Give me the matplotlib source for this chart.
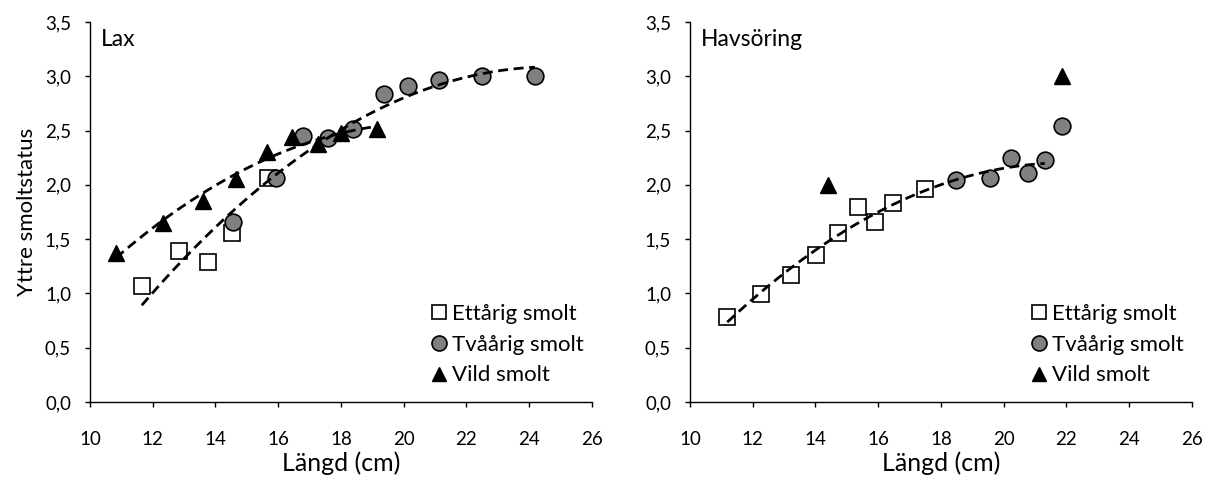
import numpy as np
import matplotlib
matplotlib.use("Agg")
import matplotlib.pyplot as plt
from matplotlib.ticker import FuncFormatter, MultipleLocator

plt.rcParams['font.family'] = ['Lato', 'DejaVu Sans']

#---------------------------------------------------
# data
#---------------------------------------------------
# Lax
lax_ett_x = [11.65, 12.84, 13.75, 14.54, 15.66]
lax_ett_y = [1.07, 1.39, 1.29, 1.56, 2.06]
lax_tva_x = [14.57, 15.93, 16.78, 17.60, 18.39, 19.37, 20.15, 21.13, 22.51, 24.18]
lax_tva_y = [1.66, 2.06, 2.45, 2.43, 2.51, 2.84, 2.91, 2.97, 3.00, 3.00]
lax_vild_x = [10.83, 12.32, 13.59, 14.65, 15.63, 16.43, 17.28, 18.00, 19.14]
lax_vild_y = [1.37, 1.65, 1.85, 2.05, 2.30, 2.44, 2.38, 2.48, 2.51]

# Havsöring
hav_ett_x = [11.19, 12.28, 13.22, 14.02, 14.71, 15.37, 15.90, 16.46, 17.49]
hav_ett_y = [0.78, 0.99, 1.17, 1.35, 1.56, 1.80, 1.66, 1.83, 1.96]
hav_tva_x = [18.48, 19.56, 20.23, 20.76, 21.31, 21.87]
hav_tva_y = [2.04, 2.06, 2.25, 2.11, 2.23, 2.54]
hav_vild_x = [14.41, 21.87]
hav_vild_y = [2.00, 3.00]

labels = ["Ettårig smolt", "Tvåårig smolt", "Vild smolt"]
xticks = np.arange(10, 27, 2)


def trend(ax, xs, ys, deg=2):
    xs = np.asarray(xs)
    ys = np.asarray(ys)
    c = np.polyfit(xs, ys, deg)
    xx = np.linspace(xs.min(), xs.max(), 200)
    ax.plot(xx, np.polyval(c, xx), color='black', lw=2.0,
            dashes=(3.6, 2.0), zorder=5)


def style(ax, title):
    ax.set_xlim(10, 26)
    ax.set_ylim(0, 3.5)
    ax.set_xticks(xticks)
    ax.yaxis.set_major_locator(MultipleLocator(0.5))
    ax.yaxis.set_major_formatter(FuncFormatter(lambda v, p: f"{v:.1f}".replace('.', ',')))
    for s in ['top', 'right']:
        ax.spines[s].set_visible(False)
    for s in ['left', 'bottom']:
        ax.spines[s].set_linewidth(1.0)
    ax.tick_params(axis='x', direction='out', length=3.6, width=1, pad=17, labelsize=13.5)
    ax.tick_params(axis='y', direction='out', length=3.6, width=1, pad=10, labelsize=13.5)
    ax.set_xlabel("Längd (cm)", fontsize=18, labelpad=3)
    ax.text(0.022, 0.955, title, transform=ax.transAxes, fontsize=16.5, va='center')


def markers(ax, ex, ey, tx, ty, vx, vy):
    ax.plot(ex, ey, 's', ms=11, mfc='white', mec='black', mew=1.2, ls='none', label=labels[0], zorder=3)
    ax.plot(tx, ty, 'o', ms=12, mfc='#808080', mec='black', mew=1.2, ls='none', label=labels[1], zorder=3)
    ax.plot(vx, vy, '^', ms=11, mfc='black', mec='black', ls='none', label=labels[2], zorder=3)
    ax.legend(loc='lower left', bbox_to_anchor=(0.66, 0.02), frameon=False,
              fontsize=16, handlelength=0.8, handletextpad=0.2, labelspacing=0.48,
              borderaxespad=0, markerscale=0.9)


fig = plt.figure(figsize=(12.13, 4.79), dpi=100)
ax1 = fig.add_axes([0.0742, 0.1608, 0.4138, 0.7933])
ax2 = fig.add_axes([0.5688, 0.1608, 0.4138, 0.7933])

markers(ax1, lax_ett_x, lax_ett_y, lax_tva_x, lax_tva_y, lax_vild_x, lax_vild_y)
trend(ax1, lax_ett_x + lax_tva_x, lax_ett_y + lax_tva_y)
trend(ax1, lax_vild_x, lax_vild_y)
style(ax1, "Lax")
ax1.set_ylabel("Yttre smoltstatus", fontsize=16, labelpad=6)

markers(ax2, hav_ett_x, hav_ett_y, hav_tva_x, hav_tva_y, hav_vild_x, hav_vild_y)
trend(ax2, hav_ett_x + hav_tva_x[:-1], hav_ett_y + hav_tva_y[:-1])
style(ax2, "Havsöring")

fig.savefig("out.png", dpi=100)
